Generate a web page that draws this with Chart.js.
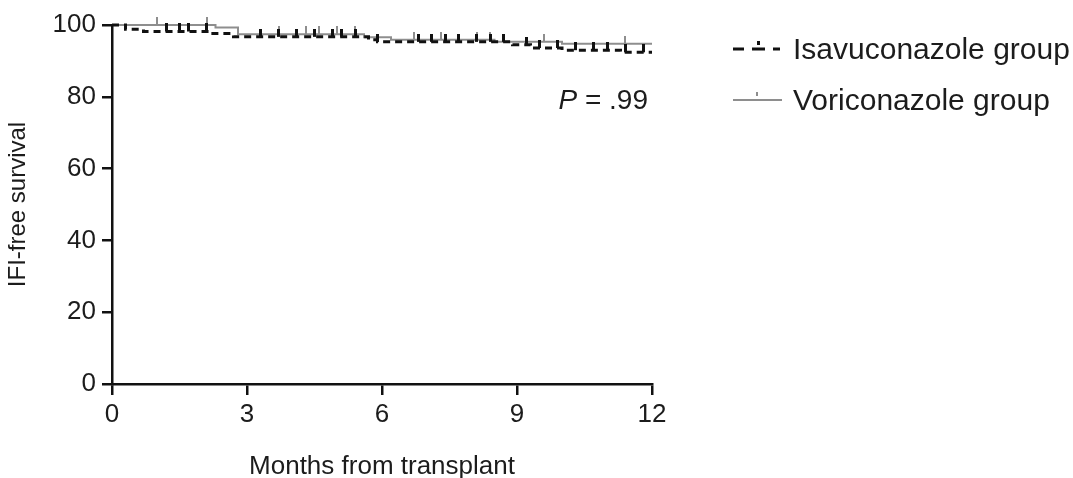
<!DOCTYPE html>
<html>
<head>
<meta charset="utf-8">
<script src="https://cdn.jsdelivr.net/npm/chart.js@4/dist/chart.umd.min.js"></script>
<style>
  html, body { margin: 0; padding: 0; background: #fff; overflow: hidden; }
  #wrap { width: 1073px; height: 478px; position: relative; }
</style>
</head>
<body>
<div id="wrap"><canvas id="km"></canvas></div>
<script>
// Kaplan-Meier steps (months, % IFI-free)
const isaTimes = [0, 0.3, 0.7, 2.2, 2.7, 5.7, 5.9, 8.9, 9.3, 10.0, 11.3, 12];
const isaSurv  = [100, 98.8, 98.2, 97.6, 96.7, 95.9, 95.3, 94.5, 93.6, 93.0, 92.4, 92.4];
const voriTimes = [0, 2.3, 2.8, 5.6, 6.2, 8.5, 10.0, 12];
const voriSurv  = [100, 99.3, 97.4, 96.6, 95.9, 95.3, 94.8, 94.8];

// censoring marks (months)
const isaCensor = [1.2, 1.5, 1.7, 2.1, 3.3, 3.7, 4.1, 4.5, 4.9, 5.1, 5.4, 5.9, 6.8, 7.1, 7.4, 7.7, 8.1, 8.4, 8.7, 9.2, 9.5, 9.9, 10.3, 10.7, 11.0, 11.4, 11.8];
const voriCensor = [1.0, 2.1, 3.7, 4.3, 4.6, 5.0, 5.4, 6.7, 7.3, 8.1, 8.4, 9.6, 11.4];

const xTicks = [0, 3, 6, 9, 12];
const yTicks = [0, 20, 40, 60, 80, 100];

const FONT = "'Liberation Sans', Arial, sans-serif";
const GREY = '#8e8e8e';
const INK = '#1c1c1c';

function steps(times, surv) {
  return times.map((t, i) => ({ x: t, y: surv[i] }));
}
// survival level in effect at time t (step lookup)
function levelAt(times, surv, t) {
  let v = surv[0];
  for (let i = 0; i < times.length; i++) if (times[i] <= t) v = surv[i];
  return v;
}
function tickMark(color, w, h) {
  const c = document.createElement('canvas');
  c.width = w; c.height = h * 2;
  const g = c.getContext('2d');
  g.fillStyle = color;
  g.fillRect(0, 0, w, h);
  return c;
}
const isaTick = tickMark('#111', 3, 8);
const voriTick = tickMark(GREY, 2, 8);

const overlay = {
  id: 'overlay',
  afterDraw(chart) {
    const ctx = chart.ctx;
    ctx.save();
    // P value
    ctx.fillStyle = INK;
    ctx.textBaseline = 'alphabetic';
    ctx.textAlign = 'right';
    ctx.font = '28px ' + FONT;
    ctx.fillText(' = .99', 648, 109);
    const w = ctx.measureText(' = .99').width;
    ctx.font = 'italic 28px ' + FONT;
    ctx.fillText('P', 648 - w, 109);

    // legend
    ctx.textAlign = 'left';
    ctx.font = '30px ' + FONT;
    ctx.fillText('Isavuconazole group', 793, 59);
    ctx.fillText('Voriconazole group', 793, 110);

    ctx.strokeStyle = '#111';
    ctx.lineWidth = 3;
    ctx.beginPath();
    ctx.moveTo(733, 49); ctx.lineTo(744, 49);
    ctx.moveTo(752, 49); ctx.lineTo(765, 49);
    ctx.moveTo(773, 49); ctx.lineTo(780, 49);
    ctx.stroke();
    ctx.drawImage(isaTick, 757, 41, 3, 8);

    ctx.strokeStyle = GREY;
    ctx.lineWidth = 2;
    ctx.beginPath();
    ctx.moveTo(733, 100); ctx.lineTo(782, 100);
    ctx.stroke();
    ctx.drawImage(voriTick, 756, 92, 2, 8);
    ctx.restore();
  }
};

new Chart(document.getElementById('km'), {
  type: 'line',
  data: {
    datasets: [
      {
        label: 'Isavuconazole group',
        data: steps(isaTimes, isaSurv),
        stepped: 'before',
        borderColor: '#111',
        borderWidth: 3,
        borderDash: [7, 5],
        pointRadius: 0,
        fill: false,
        clip: false
      },
      {
        label: 'Isavuconazole censored',
        type: 'scatter',
        data: isaCensor.map(t => ({ x: t, y: levelAt(isaTimes, isaSurv, t) })),
        pointStyle: isaTick,
        showLine: false,
        clip: false
      },
      {
        label: 'Voriconazole group',
        data: steps(voriTimes, voriSurv),
        stepped: 'before',
        borderColor: GREY,
        borderWidth: 2,
        pointRadius: 0,
        fill: false,
        clip: false
      },
      {
        label: 'Voriconazole censored',
        type: 'scatter',
        data: voriCensor.map(t => ({ x: t, y: levelAt(voriTimes, voriSurv, t) })),
        pointStyle: voriTick,
        showLine: false,
        clip: false
      }
    ]
  },
  options: {
    responsive: true,
    maintainAspectRatio: false,
    animation: false,
    events: [],
    layout: { padding: { top: 25, right: 421, left: 0, bottom: 0 } },
    plugins: { legend: { display: false }, tooltip: { enabled: false } },
    scales: {
      x: {
        type: 'linear',
        min: 0, max: 12,
        afterBuildTicks: s => { s.ticks = xTicks.map(v => ({ value: v })); },
        afterFit: s => { s.height = 94; },
        ticks: { color: INK, font: { family: FONT, size: 26 }, padding: 4, maxRotation: 0 },
        grid: { drawOnChartArea: false, color: '#111', lineWidth: 2.5, tickLength: 11 },
        border: { color: '#111', width: 2.5 },
        title: { display: true, text: 'Months from transplant', color: INK,
                 font: { family: FONT, size: 26 }, padding: { top: 0, bottom: -4 } }
      },
      y: {
        min: 0, max: 100,
        afterBuildTicks: s => { s.ticks = yTicks.map(v => ({ value: v })); },
        afterFit: s => { s.width = 112; },
        ticks: { color: INK, font: { family: FONT, size: 26 }, padding: 6 },
        grid: { drawOnChartArea: false, color: '#111', lineWidth: 2.5, tickLength: 10 },
        border: { color: '#111', width: 2.5 },
        title: { display: true, text: 'IFI-free survival', color: INK,
                 font: { family: FONT, size: 24 }, padding: { top: 4, bottom: 0 } }
      }
    }
  },
  plugins: [overlay]
});
</script>
</body>
</html>
